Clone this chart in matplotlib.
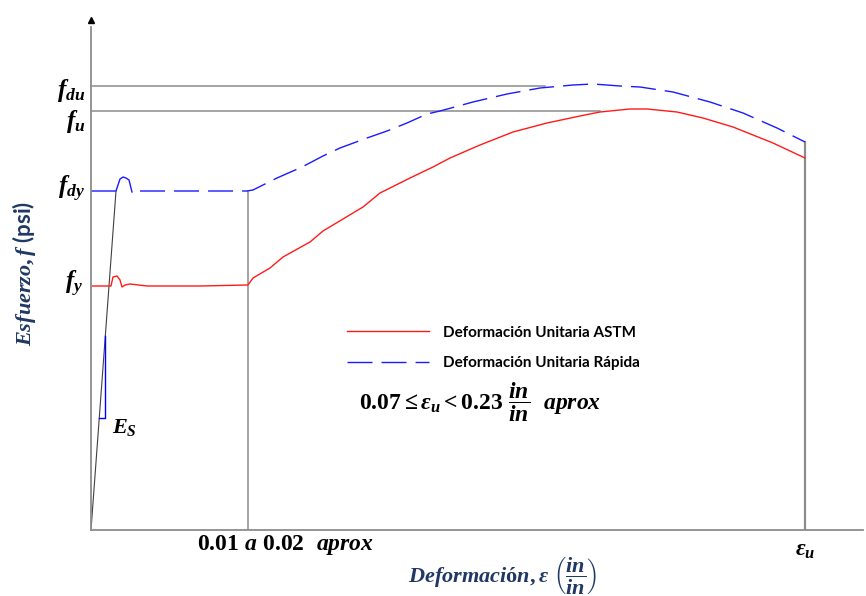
import numpy as np
import matplotlib.pyplot as plt

plt.rcParams['mathtext.fontset'] = 'custom'
plt.rcParams['mathtext.rm'] = 'Liberation Serif:bold'
plt.rcParams['mathtext.it'] = 'Liberation Serif:italic:bold'
plt.rcParams['mathtext.bf'] = 'Liberation Serif:bold'

# schematic units (strain axis, stress axis)
red_x = [0, 20, 22, 26, 29, 31, 34, 39, 56, 109, 157, 162, 179, 192, 219, 232, 272, 289, 319, 342,
         359, 389, 422, 456, 489, 509, 539, 556, 586, 612, 642, 682, 714]
red_y = [244, 244, 253, 254, 250, 243, 245, 246, 244, 244, 245, 252, 262, 273, 288, 299, 323, 337, 352, 363,
         372, 385, 398, 407, 414, 418, 421, 421, 418, 412, 403, 387, 372]

blue_yield_x = [0, 25, 27, 29, 32, 35, 38, 41]
blue_yield_y = [339, 339, 345, 351, 353, 352, 350, 338]
blue_x = [49, 109, 156, 162, 186, 211, 232, 249, 276, 296, 316, 336, 349, 382, 416, 449, 482, 502,
          529, 549, 582, 619, 652, 686, 714]
blue_y = [339, 339, 339, 340, 352, 363, 374, 382, 392, 399, 407, 416, 419, 428, 436, 442, 445, 446,
          444, 443, 438, 428, 417, 402, 388]

f_du, f_u, f_dy, f_y = 444, 419, 339, 244
eps_y = 157      # 0.01 a 0.02
eps_u = 714
f_du_end, f_u_end = 454, 509
elastic_x = [0, 25]
elastic_y = [0, 339]
es_x = [8, 14, 14]
es_y = [112, 112, 194]

gray = '#8c8c8c'
navy = '#1F3864'

fig = plt.figure(figsize=(8.66, 5.96), dpi=100)
ax = fig.add_axes([91 / 866, 66 / 596, 772 / 866, 503 / 596])
ax.set_xlim(0, 772)
ax.set_ylim(0, 503)

for s in ['top', 'right']:
    ax.spines[s].set_visible(False)
for s in ['left', 'bottom']:
    ax.spines[s].set_color(gray)
    ax.spines[s].set_linewidth(1.3)
ax.set_xticks([])
ax.set_yticks([])

# reference lines
ax.plot([0, f_du_end], [f_du, f_du], color=gray, lw=1.1)
ax.plot([0, f_u_end], [f_u, f_u], color=gray, lw=1.1)
ax.plot([eps_y, eps_y], [0, f_dy], color=gray, lw=1.1)
ax.plot([eps_u, eps_u], [0, blue_y[-1]], color=gray, lw=1.6)
ax.plot(elastic_x, elastic_y, color='#404040', lw=0.8)
ax.plot(es_x, es_y, color='#0000ff', lw=1.0)
ax.plot([0], [510], marker='^', color='black', markersize=5, clip_on=False)

# curves
ax.plot(red_x, red_y, color='#ff1a1a', lw=1.0, label='Deformación Unitaria ASTM')
ax.plot(blue_yield_x, blue_yield_y, color='#1a1aff', lw=1.0)
ax.plot(blue_x, blue_y, color='#1a1aff', lw=1.0, dashes=(18, 6.5), label='Deformación Unitaria Rápida')

ax.legend(loc='center left', bbox_to_anchor=(248, 182), bbox_transform=ax.transData,
          frameon=False, borderpad=0, handlelength=5.4, handletextpad=0.9, labelspacing=1.1,
          prop={'family': 'Lato', 'weight': 'bold', 'size': 11})

fs = 18
ax.text(-6, 440, r'$f_{du}$', ha='right', va='center', fontsize=fs)
ax.text(-6, 409, r'$f_{u}$', ha='right', va='center', fontsize=fs)
ax.text(-6, 341, r'$f_{dy}$', ha='right', va='center', fontsize=fs)
ax.text(-8, 246, r'$f_{y}$', ha='right', va='center', fontsize=fs)
ax.text(21, 103, r'$E_S$', ha='left', va='center', fontsize=16)
ax.text(194, -15, r'$0.01\ a\ 0.02\ \ aprox$', ha='center', va='center', fontsize=17, clip_on=False)
ax.text(eps_u, -19, r'$\varepsilon_u$', ha='center', va='center', fontsize=17, clip_on=False)
ax.text(389, 128, r'$0.07 \leq \varepsilon_u < 0.23\ \dfrac{in}{in}\ \ aprox$', ha='center', va='center',
        fontsize=17)

ax.text(412, -45, r'$Deformaci\mathrm{ó}n, \varepsilon\ \left(\dfrac{in}{in}\right)$', ha='center',
        va='center', fontsize=16, color=navy, clip_on=False)
ax.text(-67, 257, r'$Esfuerzo, f$ (psi)', ha='center', va='center', rotation=90, fontsize=16,
        color=navy, family='Lato', weight='bold', clip_on=False)

fig.savefig('out.png', dpi=100)
